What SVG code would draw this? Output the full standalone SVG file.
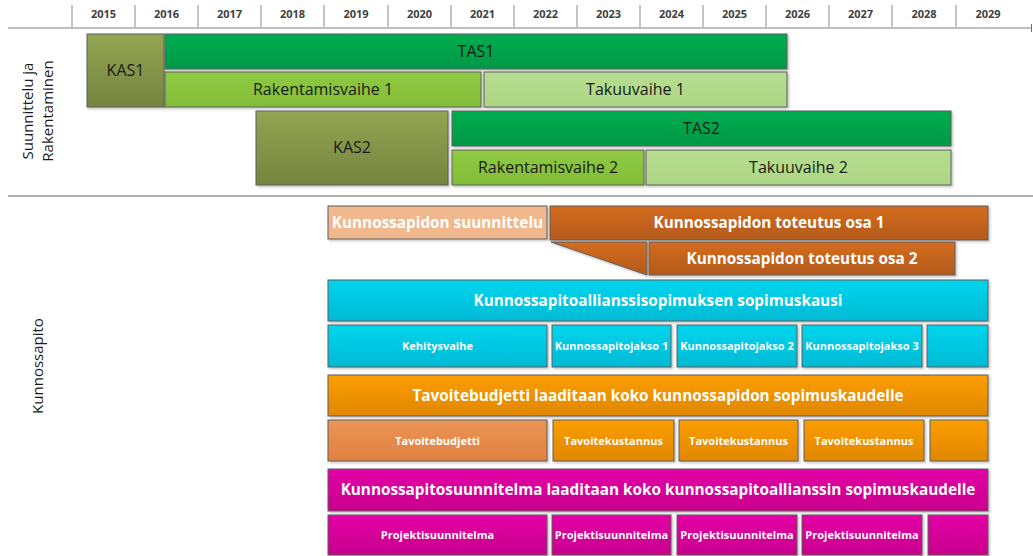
<svg xmlns="http://www.w3.org/2000/svg" width="1033" height="556" viewBox="0 0 1033 556">
<defs>
<linearGradient id="gKas" x1="0" y1="0" x2="0" y2="1"><stop offset="0" stop-color="#93a552"/><stop offset="1" stop-color="#75843e"/></linearGradient>
<linearGradient id="gTas" x1="0" y1="0" x2="0" y2="1"><stop offset="0" stop-color="#00ad4f"/><stop offset="1" stop-color="#009846"/></linearGradient>
<linearGradient id="gRak" x1="0" y1="0" x2="0" y2="1"><stop offset="0" stop-color="#90ca42"/><stop offset="1" stop-color="#82bd38"/></linearGradient>
<linearGradient id="gTak" x1="0" y1="0" x2="0" y2="1"><stop offset="0" stop-color="#b8de91"/><stop offset="1" stop-color="#acd683"/></linearGradient>
<linearGradient id="gBrown" x1="0" y1="0" x2="0" y2="1"><stop offset="0" stop-color="#d46c20"/><stop offset="1" stop-color="#b35a1a"/></linearGradient>
<linearGradient id="gCyan" x1="0" y1="0" x2="0" y2="1"><stop offset="0" stop-color="#00d5ee"/><stop offset="1" stop-color="#00bad4"/></linearGradient>
<linearGradient id="gOrange" x1="0" y1="0" x2="0" y2="1"><stop offset="0" stop-color="#fc9d00"/><stop offset="1" stop-color="#e08700"/></linearGradient>
<linearGradient id="gBudget" x1="0" y1="0" x2="0" y2="1"><stop offset="0" stop-color="#ec9556"/><stop offset="1" stop-color="#e0803f"/></linearGradient>
<linearGradient id="gMag" x1="0" y1="0" x2="0" y2="1"><stop offset="0" stop-color="#e300a6"/><stop offset="1" stop-color="#c8008c"/></linearGradient>
<filter id="sh" x="-5%" y="-10%" width="110%" height="130%"><feDropShadow dx="1.5" dy="1.5" stdDeviation="1" flood-color="#000" flood-opacity="0.25"/></filter>
</defs>
<style>
.box{stroke:#5f5f5f;stroke-width:1;filter:url(#sh)}
.yr{font-family:"Open Sans",sans-serif;font-size:11px;font-weight:bold;fill:#404040;text-anchor:middle}
.t{font-family:"Open Sans",sans-serif;font-size:16px;fill:#1a1a1a;text-anchor:middle}
.w{font-family:"Open Sans",sans-serif;font-size:15.3px;font-weight:bold;fill:#ffffff;text-anchor:middle}
.ws{font-family:"Open Sans",sans-serif;font-size:11px;font-weight:bold;fill:#ffffff;text-anchor:middle}
.lab{font-family:"Open Sans",sans-serif;font-size:15px;fill:#1a1a1a;text-anchor:middle}
.tick{stroke:#8a8a8a;stroke-width:1}
</style>
<rect width="1033" height="556" fill="#ffffff"/>
<g id="timeline">
<line x1="8" y1="28" x2="1031" y2="28" stroke="#aaaaaa" stroke-width="1.5"/>
<line x1="1031.5" y1="24" x2="1031.5" y2="32" stroke="#707070"/>
<g class="tick">
<line x1="72" y1="5" x2="72" y2="27"/><line x1="135" y1="5" x2="135" y2="27"/><line x1="198" y1="5" x2="198" y2="27"/><line x1="261" y1="5" x2="261" y2="27"/><line x1="324" y1="5" x2="324" y2="27"/><line x1="388" y1="5" x2="388" y2="27"/><line x1="451" y1="5" x2="451" y2="27"/><line x1="514" y1="5" x2="514" y2="27"/><line x1="577" y1="5" x2="577" y2="27"/><line x1="640" y1="5" x2="640" y2="27"/><line x1="703" y1="5" x2="703" y2="27"/><line x1="766" y1="5" x2="766" y2="27"/><line x1="829" y1="5" x2="829" y2="27"/><line x1="892" y1="5" x2="892" y2="27"/><line x1="956" y1="5" x2="956" y2="27"/>
</g>
<text class="yr" x="103.5" y="18">2015</text><text class="yr" x="166.5" y="18">2016</text><text class="yr" x="229.5" y="18">2017</text><text class="yr" x="292.5" y="18">2018</text><text class="yr" x="356" y="18">2019</text><text class="yr" x="419.5" y="18">2020</text><text class="yr" x="482.5" y="18">2021</text><text class="yr" x="545.5" y="18">2022</text><text class="yr" x="608.5" y="18">2023</text><text class="yr" x="671.5" y="18">2024</text><text class="yr" x="734.5" y="18">2025</text><text class="yr" x="797.5" y="18">2026</text><text class="yr" x="860.5" y="18">2027</text><text class="yr" x="924" y="18">2028</text><text class="yr" x="988" y="18">2029</text>
</g>
<g id="labels">
<text class="lab" transform="translate(33,111) rotate(-90)">Suunnittelu ja</text>
<text class="lab" transform="translate(53,111) rotate(-90)">Rakentaminen</text>
<text class="lab" transform="translate(43,366) rotate(-90)">Kunnossapito</text>
<line x1="8" y1="196" x2="1033" y2="196" stroke="#606060" stroke-width="1.2"/>
</g>
<g id="kas1"><rect class="box" x="87" y="34" width="77" height="73" fill="url(#gKas)"/><text class="t" x="125.5" y="76">KAS1</text></g>
<g id="tas1"><rect class="box" x="165" y="34" width="622" height="35" fill="url(#gTas)"/><text class="t" x="476" y="57">TAS1</text></g>
<g id="rak1"><rect class="box" x="165" y="72" width="316" height="35" fill="url(#gRak)"/><text class="t" x="323" y="95">Rakentamisvaihe 1</text></g>
<g id="tak1"><rect class="box" x="484" y="72" width="303" height="35" fill="url(#gTak)"/><text class="t" x="635.5" y="95">Takuuvaihe 1</text></g>
<g id="kas2"><rect class="box" x="256" y="111" width="192" height="74" fill="url(#gKas)"/><text class="t" x="352" y="153">KAS2</text></g>
<g id="tas2"><rect class="box" x="452" y="111" width="499" height="35" fill="url(#gTas)"/><text class="t" x="701.5" y="134">TAS2</text></g>
<g id="rak2"><rect class="box" x="452" y="150" width="192" height="35" fill="url(#gRak)"/><text class="t" x="548" y="173">Rakentamisvaihe 2</text></g>
<g id="tak2"><rect class="box" x="646" y="150" width="305" height="35" fill="url(#gTak)"/><text class="t" x="798.5" y="173">Takuuvaihe 2</text></g>
<g id="suunnittelu"><rect class="box" x="328" y="206" width="219" height="33" fill="#f0b88c"/><text class="w" x="437.5" y="228">Kunnossapidon suunnittelu</text></g>
<g id="toteutus1"><rect class="box" x="550" y="206" width="438" height="34" fill="url(#gBrown)"/><text class="w" x="769" y="228">Kunnossapidon toteutus osa 1</text></g>
<g id="wedge"><polygon class="box" points="551,242 647,242 647,275" fill="url(#gBrown)"/></g>
<g id="toteutus2"><rect class="box" x="649" y="242" width="306" height="33" fill="url(#gBrown)"/><text class="w" x="802" y="264">Kunnossapidon toteutus osa 2</text></g>
<g id="sopimuskausi"><rect class="box" x="328" y="280" width="660" height="41" fill="url(#gCyan)"/><text class="w" x="658" y="306">Kunnossapitoallianssisopimuksen sopimuskausi</text></g>
<g id="kehitysvaihe"><rect class="box" x="328" y="325" width="219" height="42" fill="url(#gCyan)"/><text class="ws" x="437.5" y="350">Kehitysvaihe</text></g>
<g id="jakso1"><rect class="box" x="552" y="325" width="119" height="42" fill="url(#gCyan)"/><text class="ws" x="611.5" y="350">Kunnossapitojakso 1</text></g>
<g id="jakso2"><rect class="box" x="677" y="325" width="120" height="42" fill="url(#gCyan)"/><text class="ws" x="737" y="350">Kunnossapitojakso 2</text></g>
<g id="jakso3"><rect class="box" x="802" y="325" width="120" height="42" fill="url(#gCyan)"/><text class="ws" x="862" y="350">Kunnossapitojakso 3</text></g>
<g id="jakso4"><rect class="box" x="927" y="325" width="61" height="42" fill="url(#gCyan)"/></g>
<g id="tavoitebudjetti-kausi"><rect class="box" x="328" y="375" width="660" height="41" fill="url(#gOrange)"/><text class="w" x="658" y="401">Tavoitebudjetti laaditaan koko kunnossapidon sopimuskaudelle</text></g>
<g id="tavoitebudjetti"><rect class="box" x="328" y="420" width="219" height="41" fill="url(#gBudget)"/><text class="ws" x="437.5" y="445">Tavoitebudjetti</text></g>
<g id="kustannus1"><rect class="box" x="553" y="420" width="121" height="41" fill="url(#gOrange)"/><text class="ws" x="613.5" y="445">Tavoitekustannus</text></g>
<g id="kustannus2"><rect class="box" x="679" y="420" width="119" height="41" fill="url(#gOrange)"/><text class="ws" x="738.5" y="445">Tavoitekustannus</text></g>
<g id="kustannus3"><rect class="box" x="804" y="420" width="120" height="41" fill="url(#gOrange)"/><text class="ws" x="864" y="445">Tavoitekustannus</text></g>
<g id="kustannus4"><rect class="box" x="930" y="420" width="58" height="41" fill="url(#gOrange)"/></g>
<g id="suunnitelma-kausi"><rect class="box" x="328" y="469" width="660" height="42" fill="url(#gMag)"/><text class="w" x="658" y="495">Kunnossapitosuunnitelma laaditaan koko kunnossapitoallianssin sopimuskaudelle</text></g>
<g id="projekti1"><rect class="box" x="328" y="515" width="219" height="40" fill="url(#gMag)"/><text class="ws" x="437.5" y="539">Projektisuunnitelma</text></g>
<g id="projekti2"><rect class="box" x="552" y="515" width="119" height="40" fill="url(#gMag)"/><text class="ws" x="611.5" y="539">Projektisuunnitelma</text></g>
<g id="projekti3"><rect class="box" x="677" y="515" width="120" height="40" fill="url(#gMag)"/><text class="ws" x="737" y="539">Projektisuunnitelma</text></g>
<g id="projekti4"><rect class="box" x="802" y="515" width="120" height="40" fill="url(#gMag)"/><text class="ws" x="862" y="539">Projektisuunnitelma</text></g>
<g id="projekti5"><rect class="box" x="928" y="515" width="60" height="40" fill="url(#gMag)"/></g>
</svg>
